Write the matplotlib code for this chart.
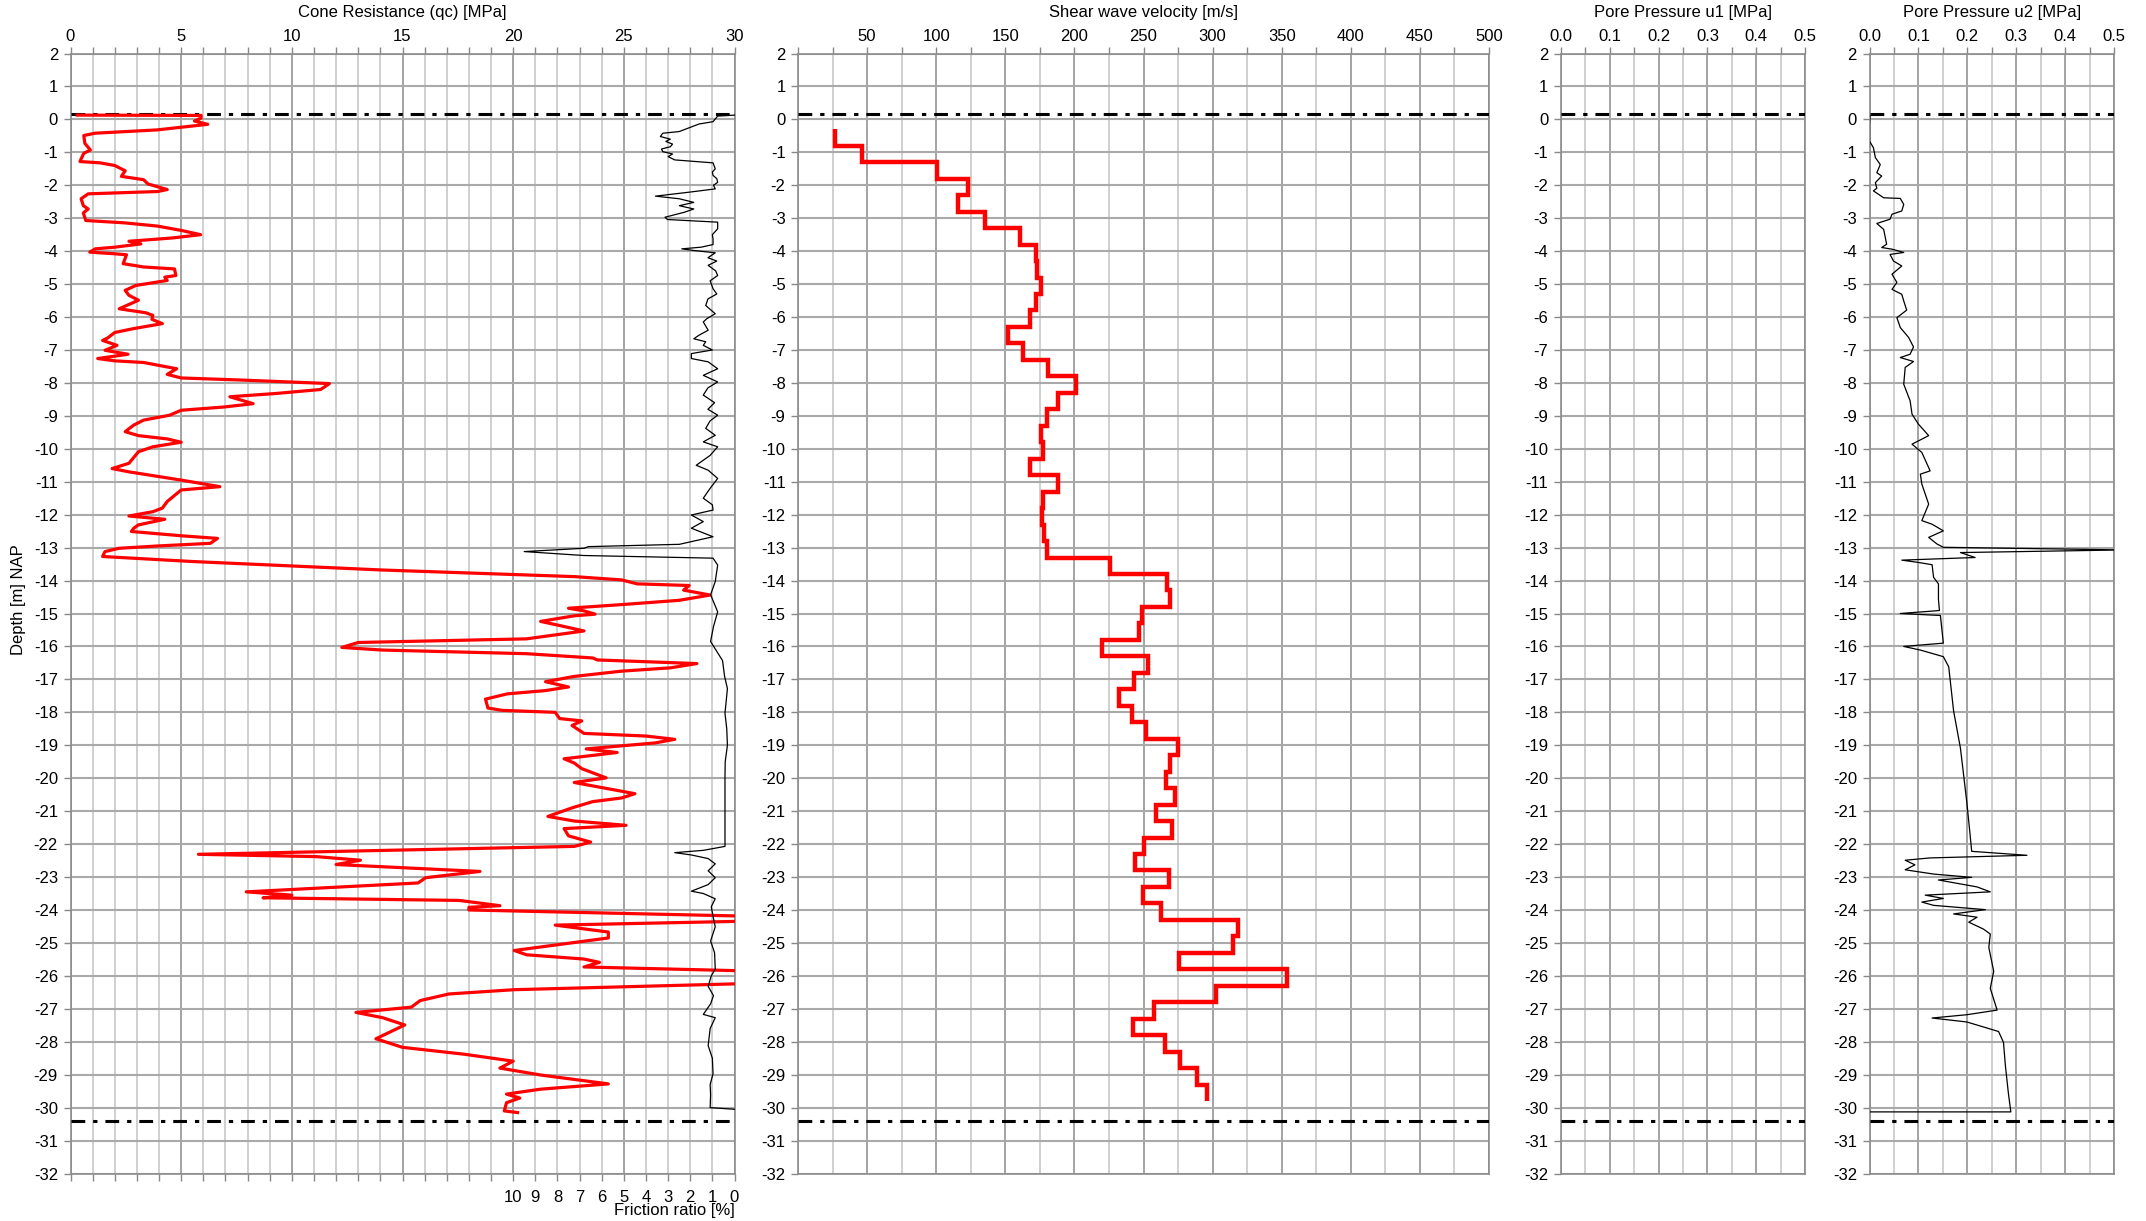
import numpy as np
import matplotlib
matplotlib.use("Agg")
import matplotlib.pyplot as plt
from matplotlib.ticker import MultipleLocator, FixedLocator, FuncFormatter
from matplotlib import font_manager

# ---------------------------------------------------------------- data
# Cone resistance qc [MPa] versus depth [m NAP]
qc_depth = [0.13, 0.12, 0.04, -0.05, -0.15, -0.32, -0.42, -0.49, -0.73, -0.93, -1.03, -1.2, -1.28,
            -1.32, -1.4, -1.56, -1.73, -1.83, -1.96, -2.13, -2.19, -2.26, -2.41, -2.62, -2.72, -2.84,
            -3.07, -3.14, -3.24, -3.37, -3.5, -3.6, -3.7, -3.78, -3.88, -3.93, -4.03, -4.08, -4.11,
            -4.38, -4.48, -4.54, -4.74, -4.79, -4.89, -5.04, -5.19, -5.34, -5.49, -5.75, -5.87, -5.95,
            -6.07, -6.2, -6.35, -6.47, -6.64, -6.71, -6.86, -7.01, -7.13, -7.26, -7.33, -7.38, -7.46,
            -7.57, -7.74, -7.85, -7.91, -8.02, -8.2, -8.32, -8.42, -8.63, -8.73, -8.83, -8.98, -9.13,
            -9.28, -9.48, -9.6, -9.7, -9.8, -9.94, -10.09, -10.44, -10.6, -10.7, -10.85, -10.95,
            -11.05, -11.15, -11.25, -11.6, -11.8, -11.91, -12.04, -12.14, -12.31, -12.41, -12.51,
            -12.64, -12.72, -12.87, -12.95, -13.02, -13.12, -13.27, -13.42, -13.68, -13.88, -13.98,
            -14.1, -14.15, -14.29, -14.44, -14.6, -14.73, -14.84, -14.92, -15.02, -15.07, -15.24,
            -15.35, -15.53, -15.77, -15.88, -16.03, -16.11, -16.22, -16.35, -16.41, -16.52, -16.65,
            -16.75, -16.91, -17.07, -17.23, -17.34, -17.44, -17.6, -17.87, -17.94, -18.0, -18.19,
            -18.26, -18.4, -18.64, -18.72, -18.82, -18.93, -19.11, -19.22, -19.41, -19.54, -19.71,
            -19.99, -20.13, -20.26, -20.47, -20.6, -20.71, -20.9, -21.16, -21.3, -21.43, -21.53,
            -21.75, -21.94, -22.07, -22.31, -22.38, -22.49, -22.62, -22.83, -23.02, -23.18, -23.45,
            -23.55, -23.63, -23.71, -23.87, -23.92, -24.0, -24.21, -24.32, -24.46, -24.67, -24.85,
            -25.23, -25.36, -25.49, -25.59, -25.73, -25.89, -26.19, -26.42, -26.55, -26.75, -26.95,
            -27.11, -27.27, -27.49, -27.91, -28.17, -28.38, -28.59, -28.8, -29.01, -29.28, -29.44,
            -29.59, -29.71, -29.85, -30.1, -30.15]
qc_values = [0.3, 5.9, 5.9, 5.6, 6.2, 3.9, 1.1, 0.6, 0.65, 0.9, 0.6, 0.48, 0.43,
             1.34, 2.0, 2.47, 2.3, 3.3, 3.5, 4.37, 3.94, 0.8, 0.48, 0.58, 0.8, 0.58,
             0.69, 2.42, 3.94, 5.0, 5.88, 4.6, 2.64, 3.18, 2.0, 1.12, 0.87, 2.0, 2.53,
             2.38, 3.3, 4.7, 4.76, 4.26, 4.37, 2.96, 2.47, 2.64, 3.07, 2.2, 3.4, 3.72,
             3.68, 4.15, 2.86, 2.0, 1.67, 1.45, 2.1, 1.56, 2.6, 1.23, 2.0, 3.3, 3.94,
             4.8, 4.37, 5.0, 7.6, 11.7, 11.3, 9.3, 7.2, 8.25, 6.96, 5.0, 4.48, 3.3,
             2.86, 2.47, 3.07, 4.37, 5.0, 3.72, 3.07, 2.64, 1.88, 2.64, 4.05, 5.0,
             5.88, 6.75, 5.0, 4.37, 4.15, 3.72, 2.64, 4.26, 3.07, 2.86, 2.75,
             5.0, 6.64, 6.32, 3.94, 2.2, 1.56, 1.45, 5.45, 14.1, 22.76, 24.9,
             25.6, 27.95, 27.7, 28.9, 27.5, 24.9, 22.5, 23.2, 23.7, 22.76, 21.24,
             22.0, 23.2, 20.6, 13.0, 12.26, 14.1, 20.6, 23.6, 23.8, 28.3, 27.1,
             24.9, 22.76, 21.46, 22.5, 21.46, 19.73, 18.75, 18.86, 19.5, 21.9, 22.1,
             23.1, 22.66, 23.2, 26.0, 27.3, 26.4, 23.3, 24.7, 22.3, 22.76, 23.1,
             24.2, 22.76, 23.8, 25.5, 24.9, 23.6, 22.66, 21.57, 22.76, 25.1, 22.3,
             22.5, 23.5, 22.76, 5.78, 11.1, 13.1, 12.0, 18.5, 16.05, 15.7, 7.94,
             10.0, 8.7, 17.56, 19.4, 18.0, 18.0, 32.0, 32.0, 21.9, 24.3, 24.3,
             20.05, 20.6, 23.2, 23.9, 23.2, 33.0, 33.0, 20.05, 17.1, 15.8, 15.4,
             12.9, 14.1, 15.1, 13.8, 15.0, 17.8, 20.0, 19.4, 21.24, 24.3, 21.24,
             19.7, 20.3, 19.7, 19.6, 20.2]

# Friction ratio Rf [%] versus depth [m NAP]
fr_depth = [0.13, 0.1, -0.07, -0.14, -0.37, -0.42, -0.52, -0.6, -0.67, -0.75, -0.83, -0.9, -0.98,
            -1.05, -1.13, -1.23, -1.32, -1.5, -1.6, -1.7, -1.8, -1.91, -2.0, -2.11, -2.21, -2.33,
            -2.41, -2.52, -2.62, -2.72, -2.82, -2.97, -3.04, -3.12, -3.32, -3.5, -3.63, -3.8, -3.88,
            -3.93, -3.98, -4.05, -4.2, -4.3, -4.43, -4.6, -4.74, -4.9, -5.14, -5.3, -5.45, -5.65,
            -5.9, -6.05, -6.15, -6.4, -6.55, -6.66, -6.75, -6.86, -7.0, -7.11, -7.26, -7.36, -7.57,
            -7.77, -7.97, -8.15, -8.37, -8.6, -8.8, -8.98, -9.15, -9.38, -9.59, -9.79, -9.94, -10.2,
            -10.5, -10.65, -10.9, -11.2, -11.5, -11.7, -11.86, -12.01, -12.21, -12.41, -12.67,
            -12.9, -12.97, -13.02, -13.12, -13.24, -13.32, -13.53, -14.03, -14.43, -14.95, -15.4,
            -15.85, -16.43, -16.9, -17.28, -18.03, -18.5, -19.0, -19.5, -19.94, -21.0, -22.07,
            -22.19, -22.26, -22.33, -22.44, -22.6, -22.81, -23.02, -23.23, -23.43, -23.5, -23.66,
            -23.9, -24.19, -24.51, -24.94, -25.3, -25.79, -26.0, -26.32, -26.6, -26.85, -27.17,
            -27.27, -27.6, -28.12, -28.5, -28.97, -29.3, -29.61, -30.0, -30.05]
fr_values = [0.0, 0.76, 0.97, 1.6, 2.5, 3.24, 3.35, 2.9, 3.1, 2.8, 2.9, 3.3, 3.24,
             2.8, 3.0, 2.7, 0.97, 0.87, 1.0, 0.97, 0.8, 0.76, 0.95, 0.87, 2.05, 3.57,
             2.49, 1.84, 2.49, 1.84, 2.27, 3.14, 3.03, 0.76, 0.76, 1.0, 0.97, 0.97, 1.51,
             2.38, 1.84, 0.87, 1.2, 0.8, 1.19, 0.85, 0.76, 1.1, 0.97, 0.8, 1.2, 1.3,
             0.87, 1.25, 1.41, 1.19, 1.6, 1.84, 1.3, 1.41, 1.0, 1.95, 1.95, 1.19, 0.76,
             1.41, 0.76, 1.2, 1.41, 0.9, 1.2, 0.76, 1.1, 1.3, 0.87, 1.41, 0.76, 1.1,
             1.73, 1.19, 0.76, 1.1, 1.41, 1.0, 0.97, 1.95, 1.41, 1.95, 0.97,
             2.49, 6.6, 6.8, 9.5, 6.8, 0.97, 0.76, 0.87, 1.08, 0.76, 0.95,
             1.08, 0.54, 0.45, 0.32, 0.43, 0.35, 0.32, 0.42, 0.43, 0.43, 0.43,
             1.41, 2.7, 1.95, 1.19, 0.87, 1.19, 0.87, 1.19, 1.95, 1.41, 0.87,
             1.05, 0.97, 0.87, 1.08, 0.9, 0.87, 1.05, 1.19, 0.95, 1.08, 1.41,
             0.87, 1.1, 1.19, 1.0, 0.97, 1.1, 1.08, 1.1, 0.0]

# Shear wave velocity Vs [m/s], layer boundaries [m NAP] (top to bottom)
vs_edges = [-0.3, -0.8, -1.3, -1.8, -2.3, -2.8, -3.3, -3.8, -4.3, -4.8, -5.3, -5.8, -6.3, -6.8,
            -7.3, -7.8, -8.3, -8.8, -9.3, -9.8, -10.3, -10.8, -11.3, -11.8, -12.3, -12.8, -13.3,
            -13.8, -14.3, -14.8, -15.3, -15.8, -16.3, -16.8, -17.3, -17.8, -18.3, -18.8, -19.3,
            -19.8, -20.3, -20.8, -21.3, -21.8, -22.3, -22.8, -23.3, -23.8, -24.3, -24.8, -25.3,
            -25.8, -26.3, -26.8, -27.3, -27.8, -28.3, -28.8, -29.3, -29.8]
vs_values = [27, 46.5, 100.6, 123, 116, 135, 160.6, 172, 173, 176, 172, 167.6, 151.7, 163,
             181, 201.4, 188, 180, 176, 177.5, 167.6, 188, 177, 176.5, 178, 180, 226,
             267, 269.5, 249, 247, 220, 253.4, 242.8, 232, 241.5, 252, 274.7, 269.4,
             266.4, 273, 259.4, 270.3, 250.5, 243.5, 268.7, 249.5, 262.7, 318.7, 314.8,
             276, 353.6, 302.5, 257.8, 242.2, 265.4, 276.6, 288.6, 296]

# Pore pressure u2 [MPa] versus depth [m NAP]
u2_depth = [0.1, -0.15, -0.66, -0.86, -1.16, -1.37, -1.62, -1.72, -1.92, -2.09, -2.17, -2.38, -2.4,
            -2.58, -2.78, -2.88, -3.03, -3.16, -3.34, -3.79, -3.89, -3.94, -4.04, -4.1, -4.3, -4.45,
            -4.7, -4.95, -5.16, -5.31, -5.51, -5.79, -6.02, -6.32, -6.62, -6.91, -7.13, -7.23,
            -7.35, -7.53, -8.04, -8.54, -8.95, -9.25, -9.6, -9.86, -10.11, -10.67, -10.77, -11.07,
            -11.68, -12.18, -12.29, -12.49, -12.69, -12.89, -12.99, -13.07, -13.15, -13.3, -13.38,
            -13.45, -13.52, -13.9, -14.1, -14.57, -14.91, -15.0, -15.06, -15.9, -16.0, -16.11,
            -16.31, -16.62, -17.96, -19.09, -20.73, -21.76, -22.22, -22.34, -22.42, -22.49, -22.63,
            -22.78, -22.91, -23.01, -23.09, -23.3, -23.45, -23.55, -23.65, -23.76, -23.86, -23.99,
            -24.12, -24.22, -24.37, -24.58, -24.73, -25.14, -25.86, -26.38, -27.04, -27.18, -27.28,
            -27.4, -27.69, -28.02, -28.74, -29.56, -30.13, -30.13]
u2_values = [0.001, 0.0, 0.0, 0.008, 0.012, 0.022, 0.015, 0.025, 0.012, 0.015, 0.008, 0.029, 0.063,
             0.07, 0.066, 0.046, 0.042, 0.015, 0.029, 0.035, 0.025, 0.046, 0.07, 0.042, 0.049, 0.066,
             0.046, 0.056, 0.046, 0.066, 0.07, 0.076, 0.056, 0.063, 0.08, 0.09, 0.083, 0.063,
             0.09, 0.073, 0.07, 0.083, 0.087, 0.1, 0.121, 0.087, 0.107, 0.124, 0.104, 0.107,
             0.121, 0.107, 0.128, 0.151, 0.121, 0.138, 0.151, 0.52, 0.186, 0.216, 0.066,
             0.1, 0.128, 0.131, 0.141, 0.141, 0.143, 0.063, 0.145, 0.151, 0.07, 0.104,
             0.151, 0.162, 0.172, 0.186, 0.199, 0.206, 0.209, 0.322, 0.124, 0.073, 0.093,
             0.073, 0.131, 0.209, 0.141, 0.22, 0.247, 0.114, 0.151, 0.107, 0.131, 0.237,
             0.172, 0.22, 0.203, 0.233, 0.247, 0.244, 0.254, 0.247, 0.261, 0.199, 0.128,
             0.199, 0.264, 0.274, 0.278, 0.284, 0.289, 0.0]

# Ground level and end-of-test reference levels [m NAP]
ref_levels = [0.15, -30.42]

titles = ["Cone Resistance (qc) [MPa]", "Shear wave velocity [m/s]",
          "Pore Pressure u1 [MPa]", "Pore Pressure u2 [MPa]"]
depth_ticks = list(range(-32, 3))
qc_ticks = [0, 5, 10, 15, 20, 25, 30]
vs_ticks = [50, 100, 150, 200, 250, 300, 350, 400, 450, 500]
u_ticks = [0.0, 0.1, 0.2, 0.3, 0.4, 0.5]
fr_ticks = [0, 1, 2, 3, 4, 5, 6, 7, 8, 9, 10]

# ---------------------------------------------------------------- style
installed = {f.name for f in font_manager.fontManager.ttflist}
family = "Liberation Sans Narrow" if "Liberation Sans Narrow" in installed else "Liberation Sans"
plt.rcParams["font.family"] = [family, "DejaVu Sans"]
plt.rcParams["axes.unicode_minus"] = False
FS = 12

W, H = 2146, 1221
fig = plt.figure(figsize=(W / 100, H / 100), dpi=100)

TOP, BOT = 53.5, 1173.5
panels_px = [(70.5, 734.5), (798, 1489), (1561, 1805), (1869.5, 2114)]


def make_ax(x0, x1):
    return fig.add_axes([x0 / W, 1 - BOT / H, (x1 - x0) / W, (BOT - TOP) / H])


MAJ_C, MIN_C, HOR_C = "#9c9c9c", "#cdcdcd", "#a9a9a9"
DASH = (0, (4.5, 2.6, 1.4, 2.6))


def style_axis(ax, xlim, major, minor, ticks, fmt):
    ax.set_xlim(*xlim)
    ax.set_ylim(-32, 2)
    ax.xaxis.set_major_locator(FixedLocator(ticks))
    ax.xaxis.set_minor_locator(MultipleLocator(minor))
    ax.xaxis.set_major_formatter(FuncFormatter(fmt))
    ax.yaxis.set_major_locator(FixedLocator(depth_ticks))
    ax.yaxis.set_major_formatter(FuncFormatter(lambda v, p: f"{int(round(v))}"))
    ax.tick_params(axis="y", direction="out", length=5, width=1, color="#888888",
                   labelsize=FS, pad=4)
    # vertical grid: every minor step light, every major step darker
    x0, x1 = xlim
    n = int(round((x1 - x0) / minor))
    for i in range(n + 1):
        xv = x0 + i * minor
        is_major = abs((xv / major) - round(xv / major)) < 1e-6
        ax.axvline(xv, color=MAJ_C if is_major else MIN_C, lw=1.3, zorder=0.5)
    for d in depth_ticks:
        ax.axhline(d, color=HOR_C, lw=1.5, zorder=0.6)
    for s in ax.spines.values():
        s.set_color("#8c8c8c")
        s.set_linewidth(1.2)
    for lv in ref_levels:
        ax.axhline(lv, color="black", lw=2.2, linestyle=DASH, zorder=3)


def top_ticks(ax, bottom_marks=False):
    ax.xaxis.set_ticks_position("top")
    ax.xaxis.set_label_position("top")
    ax.tick_params(axis="x", which="both", direction="out", length=5, width=1,
                   color="#888888", labelsize=FS, pad=1.5, top=True, labeltop=True,
                   bottom=bottom_marks, labelbottom=False)


# Panel 1: cone resistance + friction ratio (secondary, reversed axis at the bottom)
ax1 = make_ax(*panels_px[0])
style_axis(ax1, (0, 30), 5, 1, qc_ticks, lambda v, p: f"{v:g}")
ax1.plot(qc_values, qc_depth, color="#ff0000", lw=2.3, zorder=4, solid_joinstyle="round")

ax_fr = ax1.twiny()
ax_fr.set_xlim(30, 0)
ax_fr.xaxis.set_ticks_position("bottom")
ax_fr.xaxis.set_major_locator(FixedLocator(fr_ticks))
ax_fr.xaxis.set_minor_locator(FixedLocator([]))
ax_fr.xaxis.set_major_formatter(FuncFormatter(lambda v, p: f"{int(v)}"))
ax_fr.tick_params(axis="x", which="both", length=0, labelsize=FS, pad=12,
                  top=False, labeltop=False, bottom=True, labelbottom=True)
for s in ax_fr.spines.values():
    s.set_visible(False)
ax_fr.plot(fr_values, fr_depth, color="black", lw=0.9, zorder=3)
top_ticks(ax1, bottom_marks=True)
fig.text(734.5 / W, 1 - 1211 / H, "Friction ratio [%]", ha="right", va="center", fontsize=FS)

# Panel 2: shear wave velocity
ax2 = make_ax(*panels_px[1])
style_axis(ax2, (0, 500), 50, 25, vs_ticks, lambda v, p: f"{v:g}")
top_ticks(ax2)
ax2.stairs(vs_values[::-1], vs_edges[::-1], orientation="horizontal", baseline=None,
           color="#ff0000", lw=3.2, zorder=4)

# Panel 3: pore pressure u1 (no readings)
ax3 = make_ax(*panels_px[2])
style_axis(ax3, (0, 0.5), 0.1, 0.05, u_ticks, lambda v, p: f"{v:.1f}")
top_ticks(ax3)

# Panel 4: pore pressure u2
ax4 = make_ax(*panels_px[3])
style_axis(ax4, (0, 0.5), 0.1, 0.05, u_ticks, lambda v, p: f"{v:.1f}")
top_ticks(ax4)
ax4.plot(u2_values, u2_depth, color="black", lw=0.9, zorder=4)

for (x0, x1), t in zip(panels_px, titles):
    fig.text((x0 + x1) / 2 / W, 1 - 13 / H, t, ha="center", va="center", fontsize=FS)

fig.text(19 / W, 1 - 600 / H, "Depth [m] NAP", rotation=90, ha="center", va="center", fontsize=FS)

fig.savefig("out.png", dpi=100, facecolor="white")
